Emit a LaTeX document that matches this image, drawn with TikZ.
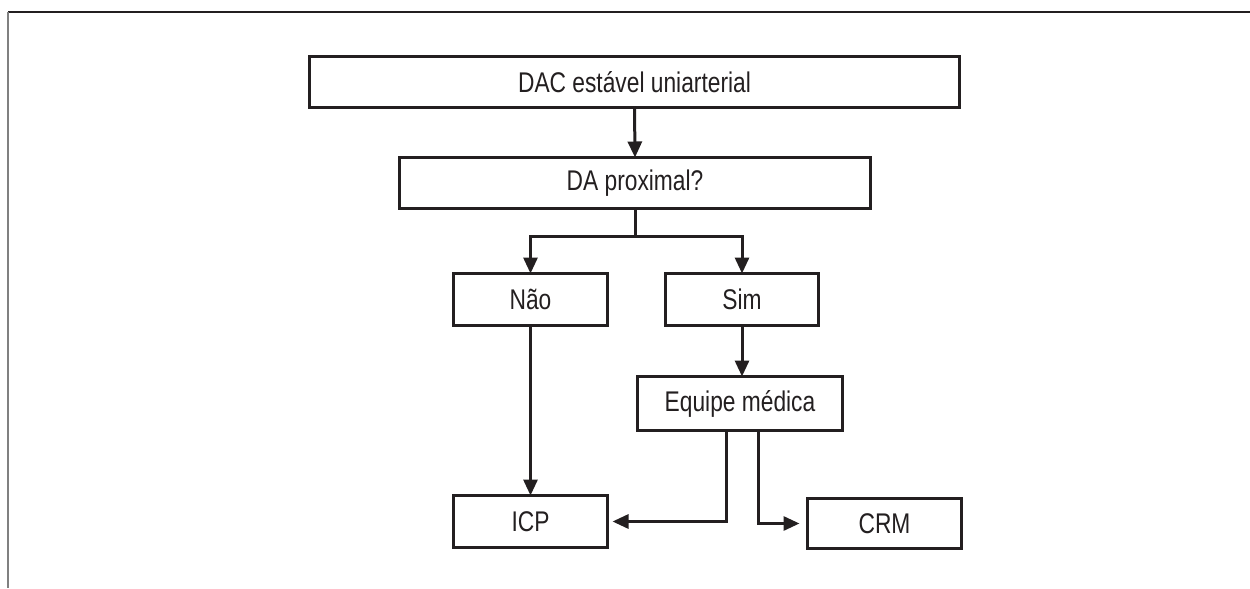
\documentclass[tikz,border=0pt]{standalone}
\usepackage{fontspec}
\setmainfont{Liberation Sans}[FakeStretch=0.8]
\usetikzlibrary{arrows.meta}
\definecolor{ink}{HTML}{231F20}
\tikzset{
  box/.style={draw=ink, line width=0.06cm, text=ink, inner sep=0pt, outer sep=0pt,
              font=\fontsize{16.2}{19}\selectfont},
  link/.style={draw=ink, line width=0.06cm,
               -{Triangle[length=0.32cm,width=0.28cm]}},
}
\begin{document}
\begin{tikzpicture}[x=0.02cm,y=-0.02cm]
  \useasboundingbox (0,0) rectangle (1250,588);
  % frame: top and left edges
  \draw[ink, line width=0.04cm] (8,12.5) -- (1250,12.5);
  \draw[gray, line width=0.04cm] (8,12.5) -- (8,588);

  % boxes
  \node[box, minimum width=650*0.02cm, minimum height=51*0.02cm] (dac) at (634.5,82) {DAC estável uniarterial};
  \node[box, minimum width=471*0.02cm, minimum height=51*0.02cm] (da) at (635,183) {DA proximal?};
  \node[box, minimum width=154*0.02cm, minimum height=52*0.02cm] (nao) at (530.5,299.5) {Não};
  \node[box, minimum width=153*0.02cm, minimum height=52*0.02cm] (sim) at (742,299.5) {Sim};
  \node[box, minimum width=205*0.02cm, minimum height=54*0.02cm] (equipe) at (740,403.5) {Equipe médica};
  \node[box, minimum width=154*0.02cm, minimum height=52*0.02cm] (icp) at (530.5,521.5) {ICP};
  \node[box, minimum width=154*0.02cm, minimum height=50*0.02cm] (crm) at (884.5,523.5) {CRM};

  % connectors
  \draw[link] (dac.south) -- (da.north);
  \coordinate (split) at (635,236);
  \draw[ink, line width=0.06cm] (da.south) -- (split);
  \draw[link, line join=miter] (split) -| (nao.north);
  \draw[link, line join=miter] (split) -| (sim.north);
  \draw[link] (sim.south) -- (sim.south |- equipe.north);
  \draw[link] (nao.south) -- (icp.north);
  \coordinate (eqL) at (726,432);
  \coordinate (eqR) at (758,432);
  \draw[link, line join=miter, shorten >=5*0.02cm] (eqL) |- (icp.east);
  \draw[link, line join=miter, shorten >=8*0.02cm] (eqR) |- (crm.west);
\end{tikzpicture}
\end{document}
